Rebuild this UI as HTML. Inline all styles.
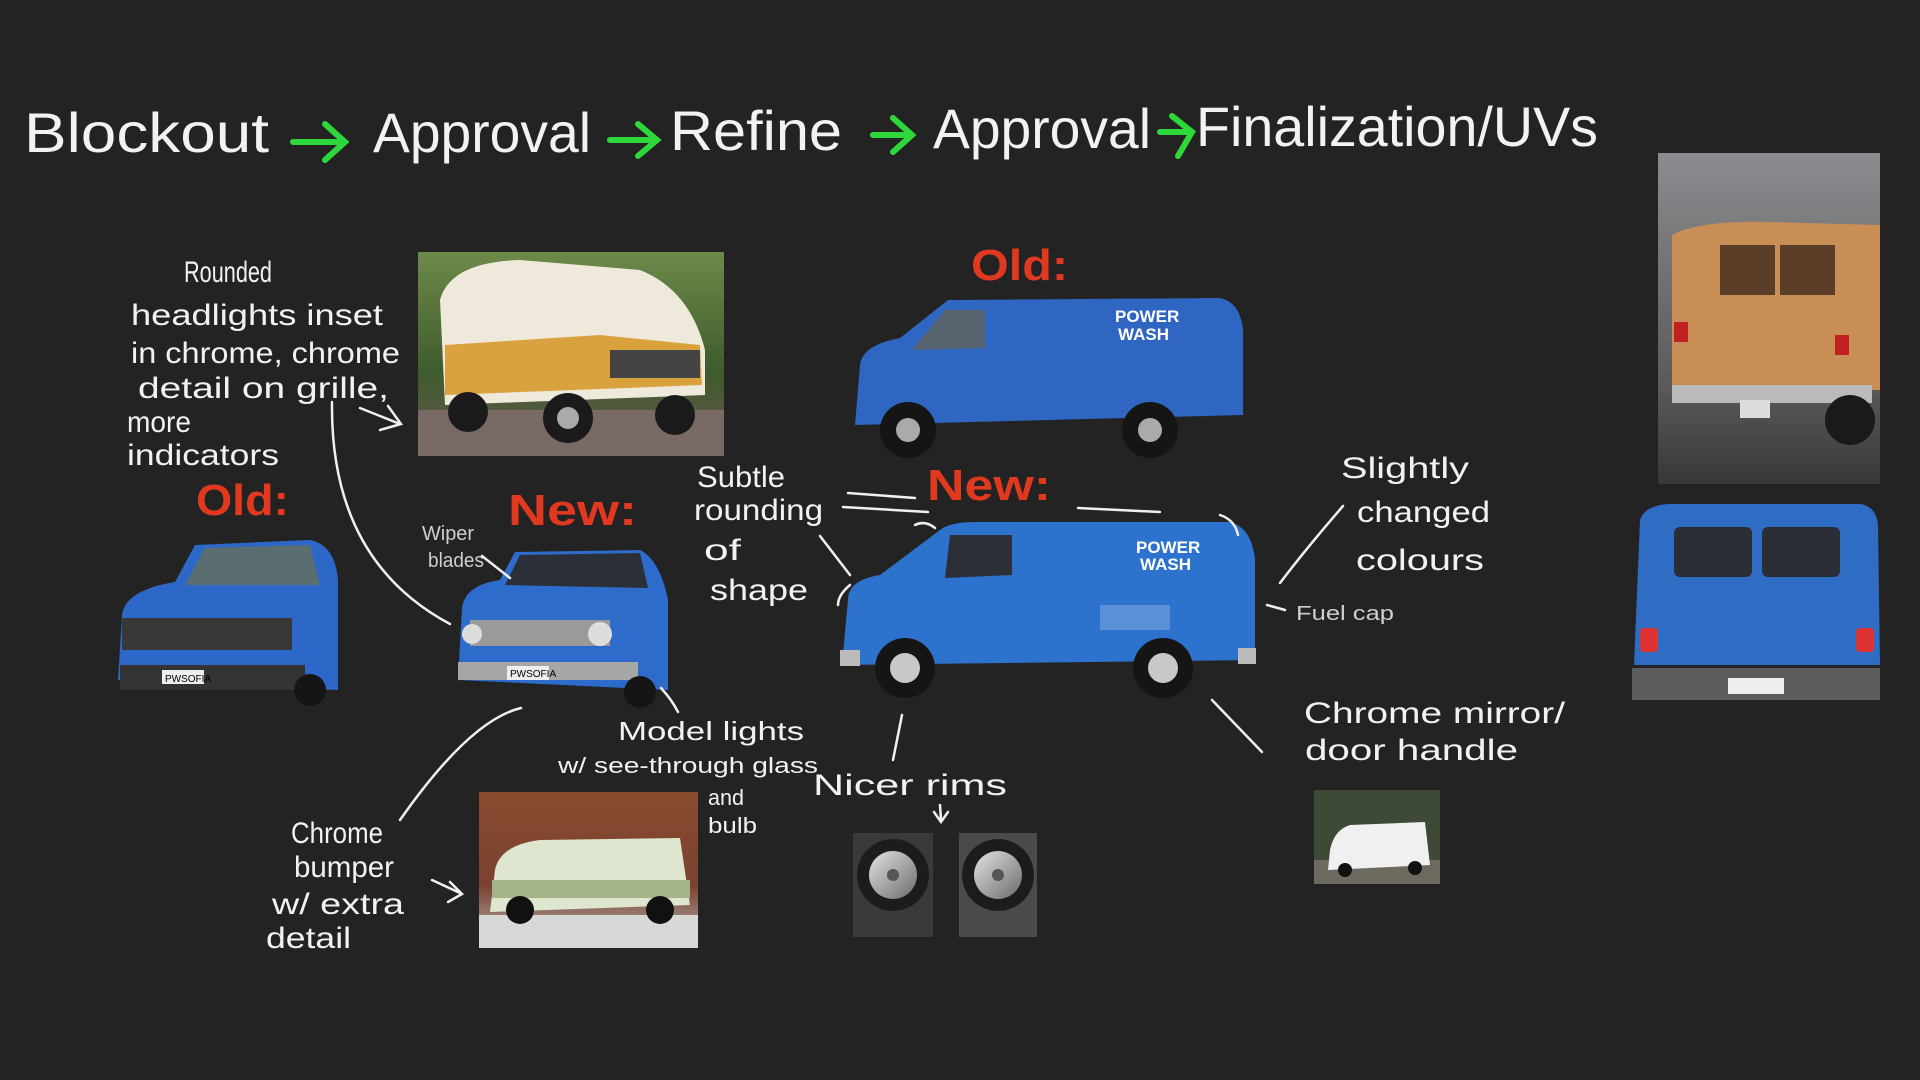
<!DOCTYPE html>
<html><head><meta charset="utf-8"><style>
html,body{margin:0;padding:0;background:#232323;}
svg{display:block}
text{font-family:"Liberation Sans",sans-serif;fill:#f2f2f2;}
.h{font-size:30px;}
.r{fill:#e0391f;font-size:44px;font-weight:bold;}
.s{font-size:20px;fill:#cfcfcf}
</style></head><body>
<svg width="1920" height="1080" viewBox="0 0 1920 1080" xmlns="http://www.w3.org/2000/svg">
<defs>
<linearGradient id="sky" x1="0" y1="0" x2="0" y2="1"><stop offset="0" stop-color="#6d8a4a"/><stop offset="0.6" stop-color="#3f5a2c"/><stop offset="1" stop-color="#6b5a55"/></linearGradient>
<linearGradient id="wall" x1="0" y1="0" x2="0" y2="1"><stop offset="0" stop-color="#8a8c90"/><stop offset="0.7" stop-color="#5c5a58"/><stop offset="1" stop-color="#3a3836"/></linearGradient>
<linearGradient id="barn" x1="0" y1="0" x2="0" y2="1"><stop offset="0" stop-color="#8a4a2e"/><stop offset="0.6" stop-color="#7a4230"/><stop offset="1" stop-color="#b8b8b8"/></linearGradient>
<linearGradient id="rim" x1="0" y1="0" x2="1" y2="1"><stop offset="0" stop-color="#e4e4e4"/><stop offset="1" stop-color="#6a6a6a"/></linearGradient>
</defs>
<rect width="1920" height="1080" fill="#232323"/>

<!-- Title -->
<g style="font-size:56px" lengthAdjust="spacingAndGlyphs">
<text x="24" y="152" textLength="245" lengthAdjust="spacingAndGlyphs">Blockout</text>
<text x="373" y="152" textLength="218" lengthAdjust="spacingAndGlyphs">Approval</text>
<text x="670" y="150" textLength="172" lengthAdjust="spacingAndGlyphs">Refine</text>
<text x="933" y="148" textLength="218" lengthAdjust="spacingAndGlyphs">Approval</text>
<text x="1196" y="146" textLength="402" lengthAdjust="spacingAndGlyphs">Finalization/UVs</text>
</g>
<g stroke="#2fd83a" stroke-width="6" fill="none" stroke-linecap="round">
<path d="M293 142 L343 142 M325 124 L345 142 L325 160"/>
<path d="M610 140 L655 140 M638 124 L657 140 L638 156"/>
<path d="M873 135 L910 135 M893 118 L912 135 L893 152"/>
<path d="M1160 132 L1190 132 M1172 116 L1192 132 L1178 156"/>
</g>

<!-- Photo camper -->
<rect x="418" y="252" width="306" height="204" fill="url(#sky)"/>
<rect x="418" y="410" width="306" height="46" fill="#7a6a66"/>
<path d="M440 300 Q450 262 520 260 L640 270 Q690 290 705 350 L705 395 L445 405 Z" fill="#efe9dc"/>
<path d="M445 345 L600 335 L700 345 L702 385 L445 395 Z" fill="#d9a23e"/>
<rect x="610" y="350" width="90" height="28" fill="#444"/>
<circle cx="468" cy="412" r="20" fill="#1a1a1a"/><circle cx="568" cy="418" r="25" fill="#1a1a1a"/><circle cx="675" cy="415" r="20" fill="#1a1a1a"/>
<circle cx="568" cy="418" r="11" fill="#aaa"/>

<!-- Top right photo -->
<rect x="1658" y="153" width="222" height="331" fill="url(#wall)"/>
<path d="M1672 235 Q1700 220 1770 222 L1880 225 L1880 390 L1672 390 Z" fill="#c98e55"/>
<rect x="1720" y="245" width="55" height="50" fill="#5a3e28"/><rect x="1780" y="245" width="55" height="50" fill="#5a3e28"/>
<rect x="1674" y="322" width="14" height="20" fill="#c02020"/><rect x="1835" y="335" width="14" height="20" fill="#c02020"/>
<rect x="1672" y="385" width="200" height="18" fill="#bbb"/>
<rect x="1740" y="400" width="30" height="18" fill="#ddd"/>
<circle cx="1850" cy="420" r="25" fill="#1a1a1a"/>

<!-- Back blue van -->
<path d="M1640 520 Q1645 505 1670 504 L1860 504 Q1876 506 1878 525 L1880 665 L1634 665 Z" fill="#2f6cc4"/>
<rect x="1674" y="527" width="78" height="50" rx="6" fill="#2a2d35"/><rect x="1762" y="527" width="78" height="50" rx="6" fill="#2a2d35"/>
<rect x="1640" y="628" width="18" height="24" rx="4" fill="#d33"/><rect x="1856" y="628" width="18" height="24" rx="4" fill="#d33"/>
<rect x="1632" y="668" width="248" height="32" fill="#5d5d5d"/>
<rect x="1728" y="678" width="56" height="16" fill="#eee"/>

<!-- Old side van -->
<path d="M860 365 Q862 345 900 338 L948 300 L1220 298 Q1240 302 1243 330 L1243 415 L855 425 Z" fill="#2e66c2"/>
<path d="M945 310 L985 310 L985 348 L912 350 Z" fill="#56636f"/>
<text x="1115" y="322" style="font-size:17px;font-weight:bold;fill:#fff">POWER</text>
<text x="1118" y="340" style="font-size:17px;font-weight:bold;fill:#fff">WASH</text>
<circle cx="908" cy="430" r="28" fill="#151515"/><circle cx="908" cy="430" r="12" fill="#aaa"/>
<circle cx="1150" cy="430" r="28" fill="#151515"/><circle cx="1150" cy="430" r="12" fill="#aaa"/>

<!-- New side van -->
<path d="M848 600 Q848 580 880 575 L940 530 Q950 522 975 522 L1230 522 Q1252 528 1255 560 L1255 660 L842 665 Z" fill="#2d73cd"/>
<path d="M950 535 L1012 535 L1012 575 L945 578 Z" fill="#2c2f36"/>
<text x="1136" y="553" style="font-size:17px;font-weight:bold;fill:#fff">POWER</text>
<text x="1140" y="570" style="font-size:17px;font-weight:bold;fill:#fff">WASH</text>
<rect x="1100" y="605" width="70" height="25" fill="#5b8fd8"/>
<rect x="840" y="650" width="20" height="16" fill="#bbb"/><rect x="1238" y="648" width="18" height="16" fill="#bbb"/>
<circle cx="905" cy="668" r="30" fill="#151515"/><circle cx="905" cy="668" r="15" fill="#c8c8c8"/>
<circle cx="1163" cy="668" r="30" fill="#151515"/><circle cx="1163" cy="668" r="15" fill="#c8c8c8"/>

<!-- Old front van -->
<path d="M122 615 Q125 590 175 582 L195 545 L310 540 Q335 545 338 580 L338 690 L118 680 Z" fill="#2d68c8"/>
<path d="M185 585 L205 548 L310 545 L320 585 Z" fill="#5a6e72"/>
<rect x="122" y="618" width="170" height="32" fill="#383838"/>
<rect x="120" y="665" width="185" height="25" fill="#333"/>
<rect x="162" y="670" width="42" height="14" fill="#eee"/>
<text x="165" y="682" style="font-size:10px;fill:#000">PWSOFIA</text>
<circle cx="310" cy="690" r="16" fill="#151515"/>

<!-- New front van -->
<path d="M462 608 Q465 585 500 580 L515 552 L640 550 Q660 560 668 600 L668 690 L458 680 Z" fill="#2e6ccb"/>
<path d="M505 585 L520 555 L640 553 L648 588 Z" fill="#2b2f37"/>
<rect x="470" y="620" width="140" height="26" fill="#9a9a9a"/>
<circle cx="472" cy="634" r="10" fill="#ddd"/><circle cx="600" cy="634" r="12" fill="#ddd"/>
<rect x="458" y="662" width="180" height="18" fill="#a6a6a6"/>
<rect x="507" y="666" width="42" height="14" fill="#eee"/>
<text x="510" y="677" style="font-size:10px;fill:#000">PWSOFIA</text>
<circle cx="640" cy="692" r="16" fill="#151515"/>

<!-- Chevy photo -->
<rect x="479" y="792" width="219" height="156" fill="url(#barn)"/>
<rect x="479" y="915" width="219" height="33" fill="#d8d8d8"/>
<path d="M495 870 Q500 845 540 840 L680 838 L690 905 L490 912 Z" fill="#dfe6cf"/>
<rect x="492" y="880" width="198" height="18" fill="#a5b38a"/>
<circle cx="520" cy="910" r="14" fill="#111"/><circle cx="660" cy="910" r="14" fill="#111"/>

<!-- Rims -->
<rect x="853" y="833" width="80" height="104" fill="#3a3a3a"/>
<circle cx="893" cy="875" r="36" fill="#1c1c1c"/><circle cx="893" cy="875" r="24" fill="url(#rim)"/><circle cx="893" cy="875" r="6" fill="#555"/>
<rect x="959" y="833" width="78" height="104" fill="#4a4a4a"/>
<circle cx="998" cy="875" r="36" fill="#1c1c1c"/><circle cx="998" cy="875" r="24" fill="url(#rim)"/><circle cx="998" cy="875" r="6" fill="#555"/>

<!-- small white van photo -->
<rect x="1314" y="790" width="126" height="94" fill="#3e4a36"/>
<rect x="1314" y="860" width="126" height="24" fill="#6e6a60"/>
<path d="M1330 850 Q1334 830 1350 825 L1425 822 L1430 865 L1328 870 Z" fill="#f0f0f0"/>
<circle cx="1345" cy="870" r="7" fill="#111"/><circle cx="1415" cy="868" r="7" fill="#111"/>

<!-- Red labels -->
<text class="r" x="196" y="515" textLength="93" lengthAdjust="spacingAndGlyphs">Old:</text>
<text class="r" x="508" y="525" textLength="129" lengthAdjust="spacingAndGlyphs">New:</text>
<text class="r" x="971" y="280" textLength="97" lengthAdjust="spacingAndGlyphs">Old:</text>
<text class="r" x="927" y="500" textLength="124" lengthAdjust="spacingAndGlyphs">New:</text>

<!-- Handwritten notes -->
<g class="h">
<text x="184" y="282" textLength="88" lengthAdjust="spacingAndGlyphs">Rounded</text>
<text x="131" y="325" textLength="252" lengthAdjust="spacingAndGlyphs">headlights inset</text>
<text x="131" y="363" textLength="269" lengthAdjust="spacingAndGlyphs">in chrome, chrome</text>
<text x="138" y="398" textLength="251" lengthAdjust="spacingAndGlyphs">detail on grille,</text>
<text x="127" y="432" textLength="64" lengthAdjust="spacingAndGlyphs">more</text>
<text x="127" y="465" textLength="152" lengthAdjust="spacingAndGlyphs">indicators</text>
<text x="697" y="487" textLength="88" lengthAdjust="spacingAndGlyphs">Subtle</text>
<text x="694" y="520" textLength="129" lengthAdjust="spacingAndGlyphs">rounding</text>
<text x="704" y="560" textLength="37" lengthAdjust="spacingAndGlyphs">of</text>
<text x="710" y="600" textLength="98" lengthAdjust="spacingAndGlyphs">shape</text>
<text x="1341" y="478" textLength="128" lengthAdjust="spacingAndGlyphs">Slightly</text>
<text x="1357" y="522" textLength="133" lengthAdjust="spacingAndGlyphs">changed</text>
<text x="1356" y="570" textLength="128" lengthAdjust="spacingAndGlyphs">colours</text>
<text x="1304" y="723" textLength="261" lengthAdjust="spacingAndGlyphs">Chrome mirror/</text>
<text x="1305" y="760" textLength="213" lengthAdjust="spacingAndGlyphs">door handle</text>
<text x="618" y="740" style="font-size:26px" textLength="186" lengthAdjust="spacingAndGlyphs">Model lights</text>
<text x="558" y="773" style="font-size:22px" textLength="260" lengthAdjust="spacingAndGlyphs">w/ see-through glass</text>
<text x="708" y="805" style="font-size:22px" textLength="36" lengthAdjust="spacingAndGlyphs">and</text>
<text x="708" y="833" style="font-size:22px" textLength="49" lengthAdjust="spacingAndGlyphs">bulb</text>
<text x="813" y="795" textLength="194" lengthAdjust="spacingAndGlyphs">Nicer rims</text>
<text x="291" y="843" textLength="92" lengthAdjust="spacingAndGlyphs">Chrome</text>
<text x="294" y="877" textLength="100" lengthAdjust="spacingAndGlyphs">bumper</text>
<text x="272" y="914" textLength="132" lengthAdjust="spacingAndGlyphs">w/ extra</text>
<text x="266" y="948" textLength="85" lengthAdjust="spacingAndGlyphs">detail</text>
</g>
<text class="s" x="422" y="540" textLength="52" lengthAdjust="spacingAndGlyphs">Wiper</text>
<text class="s" x="428" y="567" textLength="56" lengthAdjust="spacingAndGlyphs">blades</text>
<text class="s" x="1296" y="620" textLength="98" lengthAdjust="spacingAndGlyphs">Fuel cap</text>

<!-- connector lines -->
<g stroke="#f0f0f0" stroke-width="2.5" fill="none" stroke-linecap="round">
<path d="M332 402 Q330 560 450 624"/>
<path d="M360 408 L400 424 M388 406 L401 424 L380 430"/>
<path d="M482 556 L510 578"/>
<path d="M820 536 L850 575"/>
<path d="M850 585 Q838 595 838 605"/>
<path d="M848 493 L915 498 M843 507 L928 512 M915 525 Q925 520 935 528"/>
<path d="M1078 508 L1160 512 M1220 515 Q1235 520 1238 535"/>
<path d="M1343 506 Q1305 550 1280 583"/>
<path d="M1267 605 L1285 610"/>
<path d="M1212 700 L1262 752"/>
<path d="M521 708 Q470 720 400 820"/>
<path d="M661 688 Q672 700 678 712"/>
<path d="M902 715 L893 760"/>
<path d="M940 805 L941 820 M934 812 L941 822 L948 812"/>
<path d="M432 880 L460 893 M450 882 L462 894 L448 902"/>
</g>
</svg>
</body></html>
